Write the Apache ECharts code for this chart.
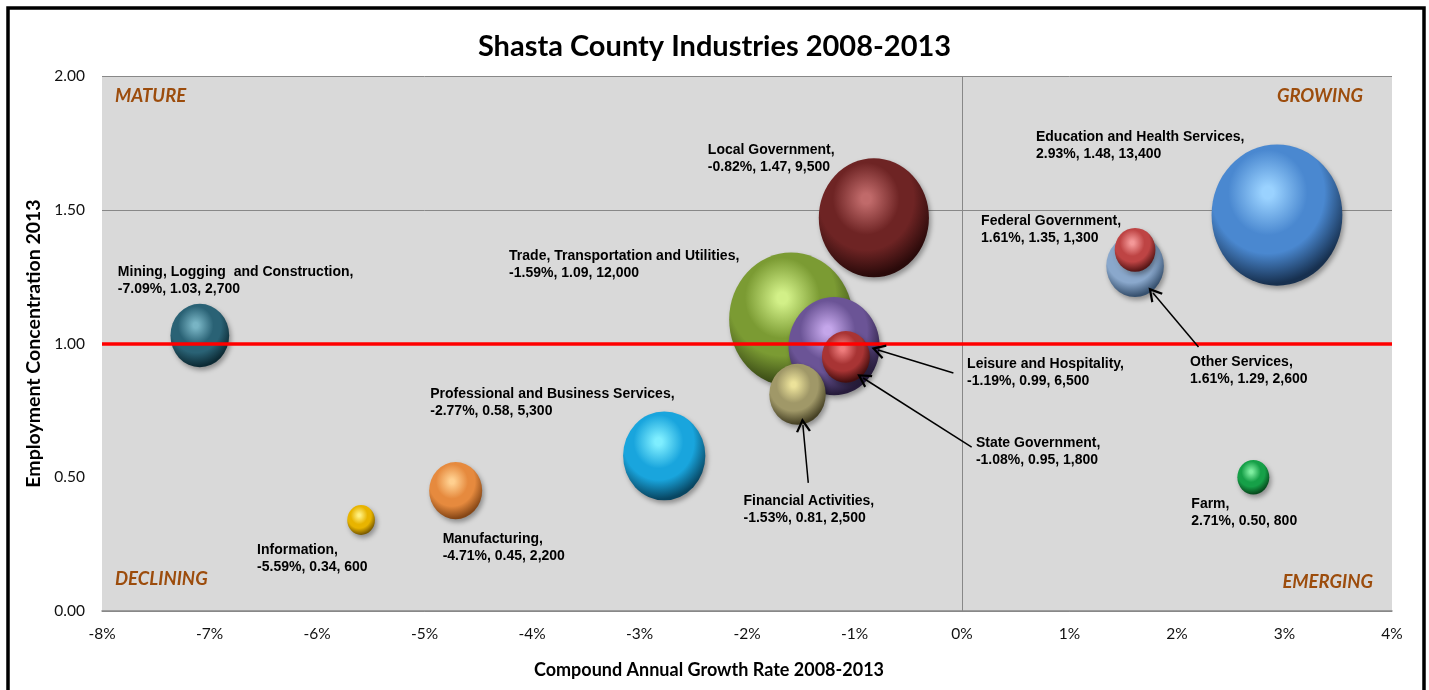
<!DOCTYPE html>
<html>
<head>
<meta charset="utf-8">
<script src="https://cdn.jsdelivr.net/npm/echarts@6/dist/echarts.min.js"></script>
<style>
html,body{margin:0;padding:0;background:#fff;}
#chart{width:1429px;height:690px;}
</style>
</head>
<body>
<div id="chart"></div>
<script>
// ---- data (ordered largest to smallest so small bubbles draw on top) ----
const industries = [
  'Education and Health Services',
  'Trade, Transportation and Utilities',
  'Local Government',
  'Leisure and Hospitality',
  'Professional and Business Services',
  'Mining, Logging  and Construction',
  'Other Services',
  'Financial Activities',
  'Manufacturing',
  'State Government',
  'Federal Government',
  'Farm',
  'Information'
];
const growthRate    = [2.93, -1.59, -0.82, -1.19, -2.77, -7.09, 1.61, -1.53, -4.71, -1.08, 1.61, 2.71, -5.59];
const concentration = [1.48, 1.09, 1.47, 0.99, 0.58, 1.03, 1.29, 0.81, 0.45, 0.95, 1.35, 0.50, 0.34];
const employment    = [13400, 12000, 9500, 6500, 5300, 2700, 2600, 2500, 2200, 1800, 1300, 800, 600];

const xTicks = { min: -8, max: 4, interval: 1 };
const yTicks = { min: 0, max: 2, interval: 0.5 };

// ---- styles ----
const bubbleColors = {
  'Education and Health Services':      ['#9ad2ff', '#4a88d0', '#17304f'],
  'Trade, Transportation and Utilities':['#d2f088', '#7b9b33', '#364614'],
  'Local Government':                   ['#c06a6a', '#6e2424', '#2a0a0a'],
  'Leisure and Hospitality':            ['#c4a6ea', '#6b5496', '#271c3c'],
  'Professional and Business Services': ['#7eeeff', '#19a5dd', '#084662'],
  'Mining, Logging  and Construction':  ['#78b4c4', '#2a6275', '#0c2a34'],
  'Other Services':                     ['#cde2f6', '#8aa8cc', '#36506e'],
  'Financial Activities':               ['#ece29a', '#a09868', '#454024'],
  'Manufacturing':                      ['#ffd090', '#e68a3e', '#854616'],
  'State Government':                   ['#ee7c7c', '#a83434', '#440e0e'],
  'Federal Government':                 ['#f49898', '#be4444', '#561616'],
  'Farm':                               ['#7eeea0', '#16a048', '#064a1c'],
  'Information':                        ['#fff080', '#e8b400', '#7a5a00']
};
// label offsets from bubble centre (px)
const labelPlace = {
  'Education and Health Services':      [-241, -86],
  'Trade, Transportation and Utilities':[-282, -72],
  'Local Government':                   [-166, -76],
  'Leisure and Hospitality':            [133, 9],
  'Professional and Business Services': [-234, -70],
  'Mining, Logging  and Construction':  [-82, -72],
  'Other Services':                     [55, 88],
  'Financial Activities':               [-54, 98],
  'Manufacturing':                      [-13, 40],
  'State Government':                   [130, 78],
  'Federal Government':                 [-154, -37],
  'Farm':                               [-62, 18],
  'Information':                        [-104, 22]
};
// annotation arrows [tail, head] in data coords
const arrows = [
  [[-0.08, 0.89], [-0.78, 0.976]],
  [[0.09, 0.613], [-0.92, 0.871]],
  [[-1.43, 0.479], [-1.48, 0.695]],
  [[2.20, 0.987], [1.777, 1.189]]
];

function fmtInt(v){ return v.toString().replace(/\B(?=(\d{3})+(?!\d))/g, ','); }

const seriesData = industries.map((name, i) => {
  const c = bubbleColors[name];
  return {
    name: name,
    value: [growthRate[i], concentration[i], employment[i]],
    itemStyle: {
      opacity: 1,
      color: {
        type: 'radial', x: 0.43, y: 0.34, r: 0.72,
        colorStops: [
          { offset: 0, color: c[0] },
          { offset: 0.06, color: c[0] },
          { offset: 0.42, color: c[1] },
          { offset: 0.6, color: c[1] },
          { offset: 0.9, color: c[2] },
          { offset: 1, color: c[2] }
        ]
      },
      shadowBlur: 5,
      shadowColor: 'rgba(0,0,0,0.35)',
      shadowOffsetX: 2,
      shadowOffsetY: 3
    },
    label: {
      offset: labelPlace[name]
    }
  };
});

const chart = echarts.init(document.getElementById('chart'));
chart.setOption({
  animation: false,
  backgroundColor: '#ffffff',
  title: {
    text: 'Shasta County Industries 2008-2013',
    left: 'center',
    top: 27,
    textStyle: { fontFamily: 'Lato', fontWeight: 'bold', fontSize: 29, color: '#000' }
  },
  grid: { left: 102, right: 37, top: 76, bottom: 79, show: true, backgroundColor: '#d9d9d9', borderWidth: 0 },
  xAxis: {
    type: 'value',
    min: xTicks.min, max: xTicks.max, interval: xTicks.interval,
    name: 'Compound Annual Growth Rate 2008-2013',
    nameLocation: 'middle',
    nameGap: 50,
    nameTextStyle: { fontFamily: 'Lato', fontWeight: 'bold', fontSize: 18, color: '#000', padding: [0, 76, 0, 0] },
    axisLine: { show: true, lineStyle: { color: '#888', width: 1.5 } },
    axisTick: { show: false },
    splitLine: { show: false },
    axisLabel: { formatter: '{value}%', margin: 15, fontFamily: 'Lato', fontSize: 15.5, color: '#111' }
  },
  yAxis: {
    type: 'value',
    min: yTicks.min, max: yTicks.max, interval: yTicks.interval,
    name: 'Employment Concentration 2013',
    nameLocation: 'middle',
    nameGap: 54,
    nameRotate: 90,
    nameTextStyle: { fontFamily: 'Lato', fontWeight: 'bold', fontSize: 19.5, color: '#000' },
    axisLine: { show: false },
    axisTick: { show: false },
    splitLine: { show: true, lineStyle: { color: ['#888', 'rgba(0,0,0,0)', 'rgba(0,0,0,0)', '#888', '#888'], width: 1 } },
    axisLabel: { formatter: v => v.toFixed(2), margin: 17, fontFamily: 'Lato', fontSize: 15.5, color: '#111' }
  },
  series: [
    {
      type: 'scatter',
      z: 2,
      silent: true,
      markLine: {
        silent: true,
        symbol: 'none',
        label: { show: false },
        data: [
          { xAxis: 0, lineStyle: { color: '#888', width: 1, type: 'solid' } },
          { yAxis: 1, lineStyle: { color: '#ff0000', width: 3.5, type: 'solid' } }
        ]
      },
      data: []
    },
    {
      type: 'scatter',
      z: 3,
      data: seriesData,
      symbolSize: v => [1.13 * Math.sqrt(v[2]), 1.22 * Math.sqrt(v[2])],
      itemStyle: { opacity: 1 },
      label: {
        show: true,
        position: 'inside',
        align: 'left',
        verticalAlign: 'top',
        fontFamily: 'Liberation Sans',
        fontWeight: 'bold',
        fontSize: 14,
        lineHeight: 17,
        color: '#000',
        formatter: p => p.name + ',\n' + p.value[0].toFixed(2) + '%, ' + p.value[1].toFixed(2) + ', ' + fmtInt(p.value[2])
      }
    },
    {
      type: 'scatter',
      z: 4,
      data: [],
      markLine: {
        silent: true,
        symbol: ['none', 'path://M5,0 L10,9 L8.6,9.6 L5,3 L1.4,9.6 L0,9 Z'],
        symbolSize: [15, 14],
        label: { show: false },
        lineStyle: { color: '#000', width: 1.5, type: 'solid' },
        data: arrows.map(a => [{ coord: a[0] }, { coord: a[1] }])
      }
    }
  ],
  graphic: [
    { type: 'rect', shape: { x: 8, y: 8, width: 1416, height: 720 }, style: { fill: 'none', stroke: '#000', lineWidth: 3.5 }, z: 100 },
    { type: 'text', left: 115, top: 87, style: { text: 'MATURE', fontFamily: 'Lato', fontStyle: 'italic', fontWeight: 'bold', fontSize: 18.5, fill: '#9c4c0c' } },
    { type: 'text', right: 1429 - 1363, top: 87, style: { text: 'GROWING', fontFamily: 'Lato', fontStyle: 'italic', fontWeight: 'bold', fontSize: 18.5, fill: '#9c4c0c' } },
    { type: 'text', left: 115, top: 570, style: { text: 'DECLINING', fontFamily: 'Lato', fontStyle: 'italic', fontWeight: 'bold', fontSize: 18.5, fill: '#9c4c0c' } },
    { type: 'text', right: 1429 - 1373, top: 573, style: { text: 'EMERGING', fontFamily: 'Lato', fontStyle: 'italic', fontWeight: 'bold', fontSize: 18.5, fill: '#9c4c0c' } }
  ]
});
</script>
</body>
</html>
